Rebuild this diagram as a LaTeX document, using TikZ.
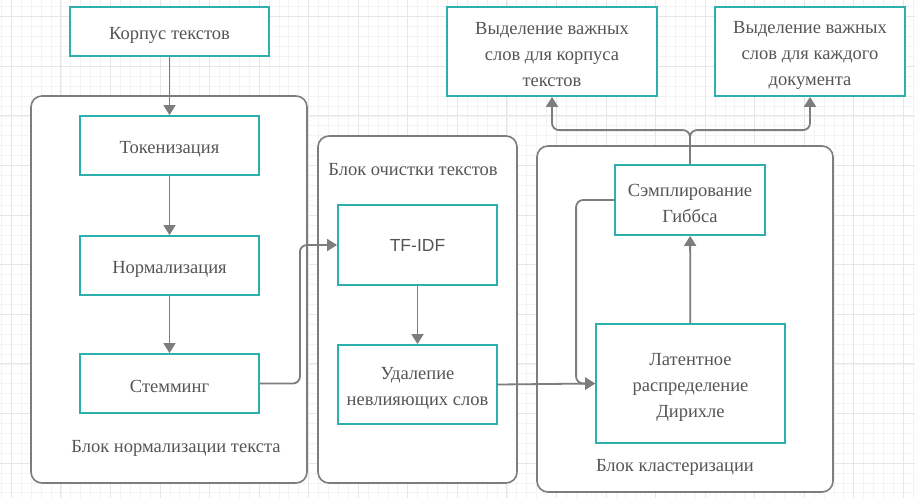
\documentclass[tikz,border=0pt]{standalone}
\usepackage{fontspec}
\setmainfont{Liberation Serif}
\newfontfamily\sansfont{Liberation Sans}
\usepackage{xcolor}
\usepackage{tikz}
\usetikzlibrary{positioning,calc,arrows.meta}
\definecolor{boxteal}{HTML}{2BB0AD}
\definecolor{linegray}{HTML}{7D7D7D}
\definecolor{textgray}{HTML}{555555}
\definecolor{gridminor}{HTML}{F3F3F3}
\definecolor{gridmajor}{HTML}{E6E6E6}
\newcommand{\boxstrut}{\rule{0pt}{19pt}}

\begin{document}
\begin{tikzpicture}[x=1pt,y=-1pt,
    box/.style={draw=boxteal, line width=1.8pt, fill=white, text=textgray, align=center,
        font=\fontsize{18.5}{26}\selectfont, inner sep=2pt},
    block/.style={draw=linegray, line width=1.6pt, rounded corners=11pt, fill=white},
    blocklabel/.style={text=textgray, font=\fontsize{18.5}{26}\selectfont},
    flow/.style={draw=linegray, line width=1.8pt, rounded corners=7pt,
        -{Triangle[length=10pt,width=12pt]}}]
    \useasboundingbox (0,0) rectangle (915,498);
    \fill[white] (0,0) rectangle (915,498);
    \foreach \i in {0,...,92} \draw[gridminor, line width=0.8pt] ({1.49+9.91*\i},0) -- ++(0,498);
    \foreach \i in {0,...,49} \draw[gridminor, line width=0.8pt] (0,{6.78+9.92*\i}) -- ++(915,0);
    \foreach \k in {0,...,18} \draw[gridmajor, line width=1pt] ({11.4+49.55*\k},0) -- ++(0,498);
    \foreach \k in {0,...,9} \draw[gridmajor, line width=1pt] (0,{16.7+49.6*\k}) -- ++(915,0);

    \draw[block] (31,96) rectangle (307,483);
    \draw[block] (318,136) rectangle (517,483);
    \draw[block] (537,146) rectangle (833,492);
    \node[blocklabel] (normlabel) at (176,448) {Блок нормализации текста};
    \node[blocklabel] (cleanlabel) at (413,170) {Блок очистки текстов};
    \node[blocklabel] (clustlabel) at (675,467) {Блок кластеризации};

    \node[box, minimum width=199pt, minimum height=49pt] (corpus) at (169.5,31.5) {\boxstrut Корпус текстов};
    \node[box, minimum width=179pt, minimum height=59pt] (token) at (169.5,145.5) {\boxstrut Токенизация};
    \node[box, minimum width=179pt, minimum height=59pt] (norm) at (169.5,265.5) {\boxstrut Нормализация};
    \node[box, minimum width=179pt, minimum height=59pt] (stem) at (169.5,383.5) {\boxstrut Стемминг};
    \node[box, minimum width=159pt, minimum height=80pt,
        font=\sansfont\fontsize{17.5}{26}\selectfont] (tfidf) at (417.5,245) {TF-IDF};
    \node[box, minimum width=159pt, minimum height=79pt] (remove) at (417.5,384.5) {\boxstrut Удалепие\\невлияющих слов};
    \node[box, minimum width=150pt, minimum height=70pt] (gibbs) at (690,200) {\boxstrut Сэмплирование\\Гиббса};
    \node[box, minimum width=189pt, minimum height=119pt] (lda) at (690.5,383.5) {\boxstrut Латентное\\распределение\\Дирихле};
    \node[box, minimum width=210pt, minimum height=89pt] (topcorp) at (552,51.5) {\boxstrut Выделение важных\\слов для корпуса\\текстов};
    \node[box, minimum width=190pt, minimum height=89pt] (topdoc) at (810,51.5) {\boxstrut Выделение важных\\слов для каждого\\документа};

    \draw[flow] (corpus) -- (token);
    \draw[flow] (token) -- (norm);
    \draw[flow] (norm) -- (stem);
    \draw[flow] (stem.east) -- ++(40,0) |- (tfidf.west);
    \draw[flow] (tfidf) -- (remove);
    \draw[flow] (remove.east) -- (lda.west);
    \draw[flow] (gibbs.west) -- ++(-38,0) |- (lda.west);
    \draw[flow] (lda) -- (gibbs);
    \coordinate (split) at ($(gibbs.north)+(0,-34)$);
    \draw[flow] (gibbs.north) -- (split) -| (topcorp.south);
    \draw[flow] (gibbs.north) -- (split) -| (topdoc.south);
\end{tikzpicture}
\end{document}
